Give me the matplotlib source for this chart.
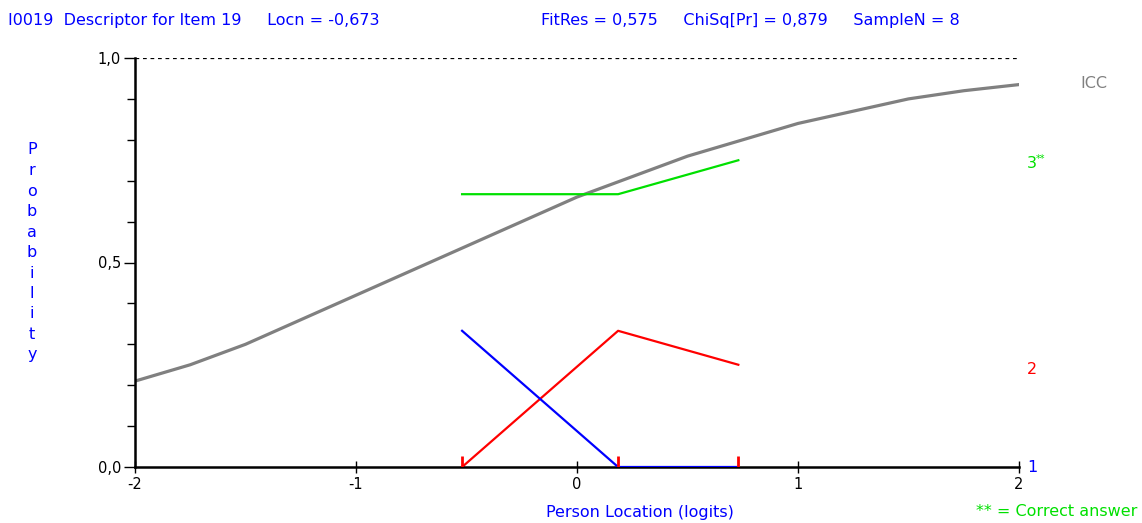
import matplotlib
matplotlib.use("Agg")
import matplotlib.pyplot as plt
from matplotlib.ticker import FixedLocator, FuncFormatter

plt.rcParams["axes.unicode_minus"] = False

W, H = 1142, 523

# item characteristic curve
icc_x = [-2.0, -1.75, -1.5, -1.25, -1.0, -0.75, -0.5, -0.25, 0.0,
         0.25, 0.5, 0.75, 1.0, 1.25, 1.5, 1.75, 2.0]
icc_y = [0.21, 0.25, 0.30, 0.36, 0.42, 0.48, 0.54, 0.60, 0.66,
         0.71, 0.76, 0.80, 0.84, 0.87, 0.90, 0.92, 0.935]

# observed proportions per class interval
obs_x = [-0.52, 0.186, 0.73]
cat1 = [0.333, 0.0, 0.0]
cat2 = [0.0, 0.333, 0.25]
cat3 = [0.667, 0.667, 0.75]

BLUE = "#0000ff"
RED = "#ff0000"
GREEN = "#00e000"
GREY = "#808080"


def px(x, y):
    return x / W, 1 - y / H


fig = plt.figure(figsize=(W / 100, H / 100), dpi=100)
ax = fig.add_axes([135 / W, 56 / H, 884 / W, 409 / H])

ax.plot(icc_x, icc_y, color=GREY, linewidth=2.3)
ax.plot(obs_x, cat3, color=GREEN, linewidth=1.6)
ax.plot(obs_x, cat2, color=RED, linewidth=1.6)
ax.plot(obs_x, cat1, color=BLUE, linewidth=1.6, zorder=4)
ax.vlines(obs_x, 0, 0.027, color=RED, linewidth=2, zorder=5)
ax.axhline(1.0, color="black", linestyle=(0, (3, 3)), linewidth=0.9)

ax.set_xlim(-2, 2)
ax.set_ylim(0, 1)
for s in ["top", "right"]:
    ax.spines[s].set_visible(False)
for s in ["left", "bottom"]:
    ax.spines[s].set_linewidth(1.8)

ax.xaxis.set_major_locator(FixedLocator([-2, -1, 0, 1, 2]))
ax.yaxis.set_major_locator(FixedLocator([0, 0.5, 1.0]))
ax.yaxis.set_minor_locator(FixedLocator([0.1, 0.2, 0.3, 0.4, 0.6, 0.7, 0.8, 0.9]))
ax.yaxis.set_major_formatter(FuncFormatter(lambda v, p: f"{v:.1f}".replace(".", ",")))
ax.tick_params(axis="x", direction="inout", length=8, width=1, labelsize=10.5, pad=3)
ax.tick_params(axis="y", which="major", length=8, width=1, labelsize=10.5, pad=2)
ax.tick_params(axis="y", which="minor", length=6, width=1)

# header
fig.text(*px(8, 20), "I0019  Descriptor for Item 19     Locn = -0,673",
         color=BLUE, fontsize=11.5, va="center")
fig.text(*px(541, 20), "FitRes = 0,575     ChiSq[Pr] = 0,879     SampleN = 8",
         color=BLUE, fontsize=11.5, va="center")

# vertical stacked y label
for i, ch in enumerate("Probability"):
    fig.text(*px(32, 150 + i * 20.5), ch, color=BLUE, fontsize=11.5,
             ha="center", va="center")

fig.text(*px(640, 512), "Person Location (logits)", color=BLUE,
         fontsize=11.5, ha="center", va="center")
fig.text(*px(1080, 84), "ICC", color=GREY, fontsize=11.5, va="center")
fig.text(*px(1027, 164), "3", color=GREEN, fontsize=11.5, va="center")
fig.text(*px(1036, 159), "**", color=GREEN, fontsize=7, va="center")
fig.text(*px(1027, 369), "2", color=RED, fontsize=11.5, va="center")
fig.text(*px(1027, 467), "1", color=BLUE, fontsize=11.5, va="center")
fig.text(*px(1137, 512), "** = Correct answer", color=GREEN, fontsize=11.5,
         ha="right", va="center")

fig.savefig("out.png", dpi=100)
